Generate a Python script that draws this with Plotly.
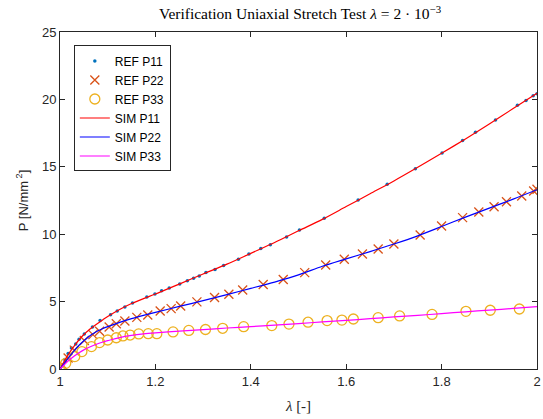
import plotly.graph_objects as go

# ---- reference data (markers) ----
ref_p11_lam = [1.000, 1.004, 1.010, 1.017, 1.024, 1.033, 1.040, 1.051, 1.068, 1.084, 1.106, 1.120,
               1.136, 1.152, 1.182, 1.199, 1.213, 1.229, 1.251, 1.267, 1.280, 1.292, 1.306, 1.325,
               1.343, 1.374, 1.396, 1.421, 1.441, 1.475, 1.502, 1.554, 1.625, 1.686, 1.745, 1.801,
               1.844, 1.871, 1.913, 1.959, 1.977, 1.992, 2.000]
ref_p11_val = [0.00, 0.30, 0.70, 1.15, 1.55, 1.86, 2.20, 2.60, 3.12, 3.59, 4.03, 4.30,
               4.60, 4.90, 5.34, 5.56, 5.81, 6.01, 6.31, 6.55, 6.73, 6.90, 7.15, 7.39,
               7.67, 8.14, 8.53, 8.93, 9.22, 9.79, 10.31, 11.18, 12.54, 13.70, 14.86, 16.02,
               16.96, 17.56, 18.47, 19.56, 19.91, 20.28, 20.42]

ref_p22_lam = [1.000, 1.006, 1.017, 1.030, 1.051, 1.069, 1.083, 1.103, 1.118, 1.136, 1.161, 1.184,
               1.210, 1.233, 1.253, 1.287, 1.324, 1.354, 1.383, 1.426, 1.468, 1.513, 1.557,
               1.596, 1.634, 1.667, 1.700, 1.755, 1.800, 1.844, 1.878, 1.910, 1.936, 1.968,
               1.993, 2.000]
ref_p22_val = [0.00, 0.28, 0.82, 1.40, 2.12, 2.55, 2.80, 3.12, 3.36, 3.56, 3.83, 4.01,
               4.30, 4.48, 4.67, 4.98, 5.30, 5.55, 5.86, 6.27, 6.64, 7.15, 7.72,
               8.14, 8.53, 8.90, 9.27, 9.94, 10.61, 11.23, 11.65, 12.04, 12.41, 12.83,
               13.20, 13.33]

ref_p33_lam = [1.000, 1.012, 1.031, 1.046, 1.066, 1.083, 1.100, 1.118, 1.132, 1.147, 1.165,
               1.185, 1.203, 1.237, 1.270, 1.305, 1.341, 1.385, 1.444, 1.480, 1.520, 1.560,
               1.591, 1.615, 1.667, 1.712, 1.780, 1.851, 1.902, 1.963]
ref_p33_val = [0.00, 0.42, 0.92, 1.29, 1.66, 1.96, 2.15, 2.32, 2.45, 2.52, 2.60,
               2.62, 2.62, 2.75, 2.86, 2.93, 3.02, 3.14, 3.22, 3.33, 3.47, 3.59,
               3.63, 3.71, 3.81, 3.94, 4.05, 4.28, 4.36, 4.45]

# ---- simulated curves ----
sim_lam = [1.000, 1.010, 1.020, 1.030, 1.040, 1.050, 1.060, 1.075, 1.090, 1.100, 1.125, 1.150,
           1.175, 1.200, 1.250, 1.300, 1.350, 1.400, 1.450, 1.500, 1.550, 1.600, 1.650,
           1.700, 1.750, 1.800, 1.850, 1.900, 1.950, 2.000]
sim_p11 = [0.00, 0.65, 1.22, 1.72, 2.17, 2.56, 2.88, 3.28, 3.66, 3.90, 4.42, 4.86,
           5.22, 5.56, 6.30, 7.05, 7.78, 8.58, 9.38, 10.25, 11.10, 12.05, 13.00,
           13.95, 14.96, 16.00, 17.07, 18.18, 19.32, 20.45]
sim_p22 = [0.00, 0.48, 0.94, 1.37, 1.76, 2.10, 2.40, 2.75, 3.00, 3.14, 3.46, 3.74,
           3.98, 4.20, 4.64, 5.07, 5.52, 5.98, 6.45, 6.98, 7.62, 8.17, 8.71,
           9.27, 9.88, 10.57, 11.27, 11.93, 12.60, 13.30]
sim_p33 = [0.00, 0.35, 0.68, 0.96, 1.21, 1.42, 1.60, 1.82, 2.00, 2.10, 2.33, 2.49,
           2.60, 2.68, 2.81, 2.92, 3.04, 3.14, 3.25, 3.37, 3.49, 3.61, 3.73,
           3.86, 3.98, 4.11, 4.24, 4.37, 4.49, 4.62]

x_ticks = [1, 1.2, 1.4, 1.6, 1.8, 2]
x_tick_labels = ["1", "1.2", "1.4", "1.6", "1.8", "2"]
y_ticks = [0, 5, 10, 15, 20, 25]

fig = go.Figure()
fig.add_trace(go.Scatter(x=ref_p11_lam, y=ref_p11_val, mode="markers", name="REF P11",
                         marker=dict(symbol="circle", size=3.5, color="#0072BD")))
fig.add_trace(go.Scatter(x=ref_p22_lam, y=ref_p22_val, mode="markers", name="REF P22",
                         marker=dict(symbol="x-thin-open", size=9, color="#D95319",
                                     line=dict(width=1.3, color="#D95319"))))
fig.add_trace(go.Scatter(x=ref_p33_lam, y=ref_p33_val, mode="markers", name="REF P33",
                         marker=dict(symbol="circle-open", size=10, color="#EDB120",
                                     line=dict(width=1.3, color="#EDB120"))))
fig.add_trace(go.Scatter(x=sim_lam, y=sim_p11, mode="lines", name="SIM P11",
                         line=dict(color="#FF0000", width=1.2, shape="spline", smoothing=0.8)))
fig.add_trace(go.Scatter(x=sim_lam, y=sim_p22, mode="lines", name="SIM P22",
                         line=dict(color="#0000FF", width=1.2, shape="spline", smoothing=0.8)))
fig.add_trace(go.Scatter(x=sim_lam, y=sim_p33, mode="lines", name="SIM P33",
                         line=dict(color="#FF00FF", width=1.2, shape="spline", smoothing=0.8)))

axis_common = dict(showgrid=False, zeroline=False, showline=True, linecolor="#262626",
                   linewidth=1, mirror="ticks", ticks="inside", ticklen=5,
                   tickcolor="#262626", ticklabeloverflow="allow",
                   tickfont=dict(family="Liberation Sans, Arial", size=13, color="#262626"))

fig.update_xaxes(range=[1, 2], tickvals=x_ticks, ticktext=x_tick_labels,
                 title=dict(text="<i>λ</i> [-]", font=dict(family="Liberation Serif, DejaVu Serif", size=15, color="#262626"),
                            standoff=12),
                 **axis_common)
fig.update_yaxes(range=[0, 25], tickvals=y_ticks,
                 title=dict(text="P [N/mm<sup> 2</sup>]", font=dict(family="Liberation Sans, Arial", size=13, color="#262626"),
                            standoff=10),
                 **axis_common)

fig.update_layout(
    width=543, height=419,
    margin=dict(l=60, r=2, t=32, b=50),
    paper_bgcolor="white", plot_bgcolor="white",
    title=dict(text="Verification Uniaxial Stretch Test <i>λ</i> = 2 · 10<sup>−3</sup>",
               x=(300) / 543, xanchor="center", y=1 - 14 / 419, yanchor="middle",
               font=dict(family="Liberation Serif, DejaVu Serif", size=15.5, color="black")),
    legend=dict(x=0.029, y=0.96, xanchor="left", yanchor="top",
                bgcolor="white", bordercolor="#262626", borderwidth=1,
                font=dict(family="Liberation Sans, Arial", size=12, color="black"),
                tracegroupgap=0, itemwidth=30),
    showlegend=True,
)

fig.write_html("out.html", config={"displayModeBar": False},
               post_script="document.body.style.margin='0';document.body.style.padding='0';")
